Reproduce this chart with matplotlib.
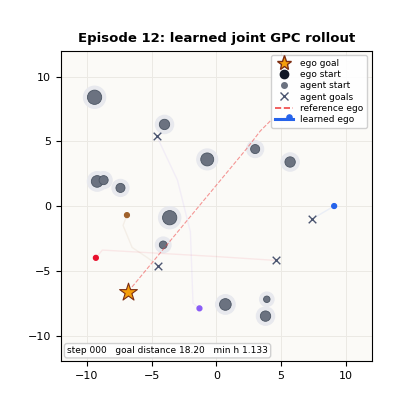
import matplotlib.pyplot as plt
from matplotlib.patches import Circle
from matplotlib.lines import Line2D

OBS_X = [-9.4, -4.0, -0.7, 3.0, 5.7, -9.2, -8.7, -7.4, -3.6, -4.1, 0.7, 3.9, 3.8]
OBS_Y = [8.4, 6.3, 3.6, 4.4, 3.4, 1.9, 2.0, 1.4, -0.9, -3.0, -7.6, -7.2, -8.5]
OBS_R = [0.55, 0.4, 0.5, 0.35, 0.4, 0.45, 0.35, 0.35, 0.55, 0.3, 0.45, 0.25, 0.4]

AG_START_X = [-6.9, -9.3, -1.3, 9.1]
AG_START_Y = [-0.7, -4.0, -7.9, 0.0]
AG_COLORS = ["#a0622d", "#e8112d", "#8a5cf6", "#2563eb"]
AG_GOAL_X = [-4.5, 4.6, -4.6, 7.4]
AG_GOAL_Y = [-4.6, -4.2, 5.4, -1.0]
# faint trails (start -> via -> goal)
TRAIL_X = [[-6.9, -7.2, -6.5, -5.3, -4.5], [-9.3, -8.8, 0.0, 4.6], [-1.3, -1.8, -2.0, -3.0, -4.6], [9.1, 7.4]]
TRAIL_Y = [[-0.7, -1.5, -3.2, -4.0, -4.6], [-4.0, -3.4, -3.9, -4.2], [-7.9, -7.5, -2.0, 2.0, 5.4], [0.0, -1.0]]

EGO_GOAL = (-6.8, -6.6)
EGO_START = (5.6, 6.9)
REF_X = [-6.8, 2.4, 3.4, 4.2, 5.6]
REF_Y = [-6.6, 4.5, 5.8, 6.6, 6.9]

fig, ax = plt.subplots(figsize=(4.2, 4.08), dpi=100)
fig.subplots_adjust(left=0.145, right=0.885, bottom=0.11, top=0.88)
ax.set_facecolor("#fbfaf7")
ax.grid(True, color="#ebe9e4", lw=0.7)

for x, y, r in zip(OBS_X, OBS_Y, OBS_R):
    ax.add_patch(Circle((x, y), r + 0.3, color="#e8e9ee", zorder=2))
    ax.add_patch(Circle((x, y), r, color="#6b7280", ec="#4b5563", lw=0.6, zorder=3))

for tx, ty, c in zip(TRAIL_X, TRAIL_Y, AG_COLORS):
    ax.plot(tx, ty, color=c, alpha=0.08, lw=1.0, zorder=2)
ax.scatter(AG_START_X, AG_START_Y, c=AG_COLORS, s=12, zorder=5)
ax.scatter(AG_GOAL_X, AG_GOAL_Y, marker="x", color="#4b5570", s=30, lw=1.0, zorder=5)

ax.plot(REF_X, REF_Y, color="#ef4444", ls="--", lw=0.8, alpha=0.55, zorder=4)
ax.scatter([EGO_START[0]], [EGO_START[1]], color="#2563eb", s=14, zorder=6)
ax.scatter([EGO_GOAL[0]], [EGO_GOAL[1]], marker="*", s=180, color="#f59e0b",
           ec="#7c2d12", lw=0.8, zorder=7)

ax.set_xlim(-12, 12)
ax.set_ylim(-12, 12)
ax.set_aspect("equal")
ax.set_xticks([-10, -5, 0, 5, 10])
ax.set_yticks([-10, -5, 0, 5, 10])
ax.tick_params(labelsize=8)
ax.set_title("Episode 12: learned joint GPC rollout", fontsize=9.5, fontweight="bold")

handles = [
    Line2D([], [], marker="*", ls="", color="#f59e0b", mec="#7c2d12", ms=11, label="ego goal"),
    Line2D([], [], marker="o", ls="", color="#111827", ms=6, label="ego start"),
    Line2D([], [], marker="o", ls="", color="#6b7280", ms=4, label="agent start"),
    Line2D([], [], marker="x", ls="", color="#4b5570", ms=6, label="agent goals"),
    Line2D([], [], ls="--", color="#ef4444", lw=1.2, label="reference ego"),
    Line2D([], [], ls="-", color="#2563eb", lw=2.2, label="learned ego"),
]
ax.legend(handles=handles, loc="upper right", fontsize=6.5, framealpha=0.9,
          handlelength=2.0, labelspacing=0.25, borderpad=0.4)

ax.text(0.02, 0.02, "step 000   goal distance 18.20   min h 1.133", transform=ax.transAxes,
        fontsize=6.5, ha="left", va="bottom",
        bbox=dict(boxstyle="round,pad=0.3", fc="white", ec="#cccccc", alpha=0.9))

fig.savefig("out.png", dpi=100)
